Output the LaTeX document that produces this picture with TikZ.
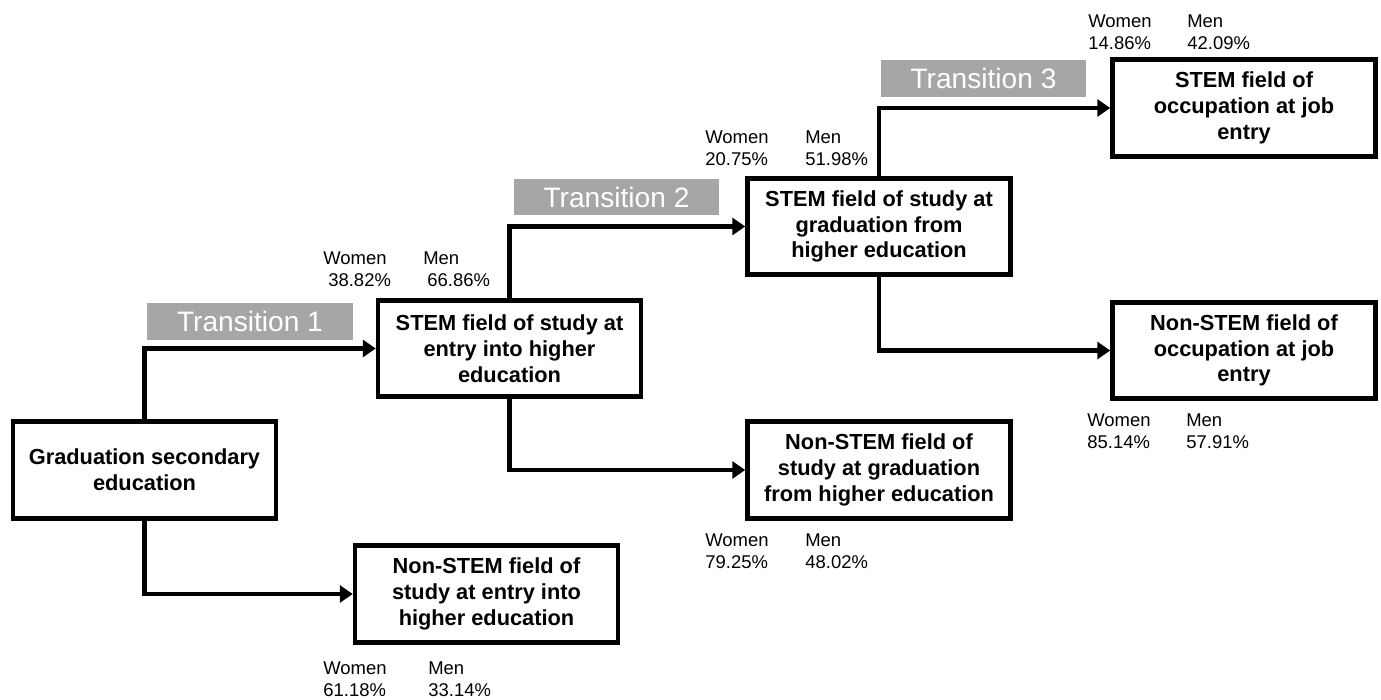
\documentclass[tikz,border=0pt]{standalone}
\usepackage{xcolor}
\usepackage{fontspec}
\setmainfont{Liberation Sans}
\usepackage{tikz}
\usetikzlibrary{arrows.meta}
\definecolor{transgray}{RGB}{166,166,166}
\tikzset{>=stealth}
\tikzset{
  stage/.style={draw, line width=2.6pt, align=center, minimum width=5.26cm, minimum height=1.93cm, inner sep=2pt, font=\fontsize{12.4}{14.7}\selectfont\bfseries},
  trans/.style={fill=transgray, text=white, minimum width=4.12cm, minimum height=0.74cm, inner sep=0pt, font=\fontsize{16}{18}\selectfont},
  share/.style={anchor=north west, inner sep=0pt, align=left, font=\fontsize{10.5}{12.8}\selectfont},
  flow/.style={line width=2.6pt, -{Triangle[length=2.6mm,width=3.4mm]}}
}

\begin{document}
\begin{tikzpicture}[x=0.02cm,y=-0.02cm]
        \useasboundingbox (0,0) rectangle (1381,699);

          % Add the stage boxes
          \node[stage] (grad) at (144.5,470) {Graduation secondary\\education};
          \node[stage] (stem1) at (509.5,348.5) {STEM field of study at\\entry into higher\\education};
          \node[stage] (nonstem1) at (486.5,594) {Non-STEM field of\\study at entry into\\higher education};
          \node[stage] (stem2) at (879,226.5) {STEM field of study at\\graduation from\\higher education};
          \node[stage] (nonstem2) at (879,470) {Non-STEM field of\\study at graduation\\from higher education};
          \node[stage] (stem3) at (1244,108) {STEM field of\\occupation at job\\entry};
          \node[stage] (nonstem3) at (1244,350.5) {Non-STEM field of\\occupation at job\\entry};

          % Add the transitions
          \node[trans] (t1) at (250,321.5) {Transition 1};
          \node[trans] (t2) at (616.5,197) {Transition 2};
          \node[trans] (t3) at (983.5,78.5) {Transition 3};

          \draw[flow] (grad.north) |- (stem1.west);
          \draw[flow] (grad.south) |- (nonstem1.west);
          \draw[flow] (stem1.north) |- (stem2.west);
          \draw[flow] (stem1.south) |- (nonstem2.west);
          \draw[flow] (stem2.north) |- (stem3.west);
          \draw[flow] (stem2.south) |- (nonstem3.west);

        % Add shares of women and men
        \node[share] (w1) at (323,251) {Women\\\hspace*{0.1cm}38.82\%};
        \node[share] (m1) at (423,251) {Men\\\hspace*{0.08cm}66.86\%};
        \node[share] (w2) at (705,130) {Women\\20.75\%};
        \node[share] (m2) at (805,130) {Men\\51.98\%};
        \node[share] (w3) at (1088,14) {Women\\14.86\%};
        \node[share] (m3) at (1187,14) {Men\\42.09\%};
        \node[share] (w4) at (323,661) {Women\\61.18\%};
        \node[share] (m4) at (428,661) {Men\\33.14\%};
        \node[share] (w5) at (705,533) {Women\\79.25\%};
        \node[share] (m5) at (805,533) {Men\\48.02\%};
        \node[share] (w6) at (1087,413) {Women\\85.14\%};
        \node[share] (m6) at (1186,413) {Men\\57.91\%};

        \end{tikzpicture}
\end{document}
